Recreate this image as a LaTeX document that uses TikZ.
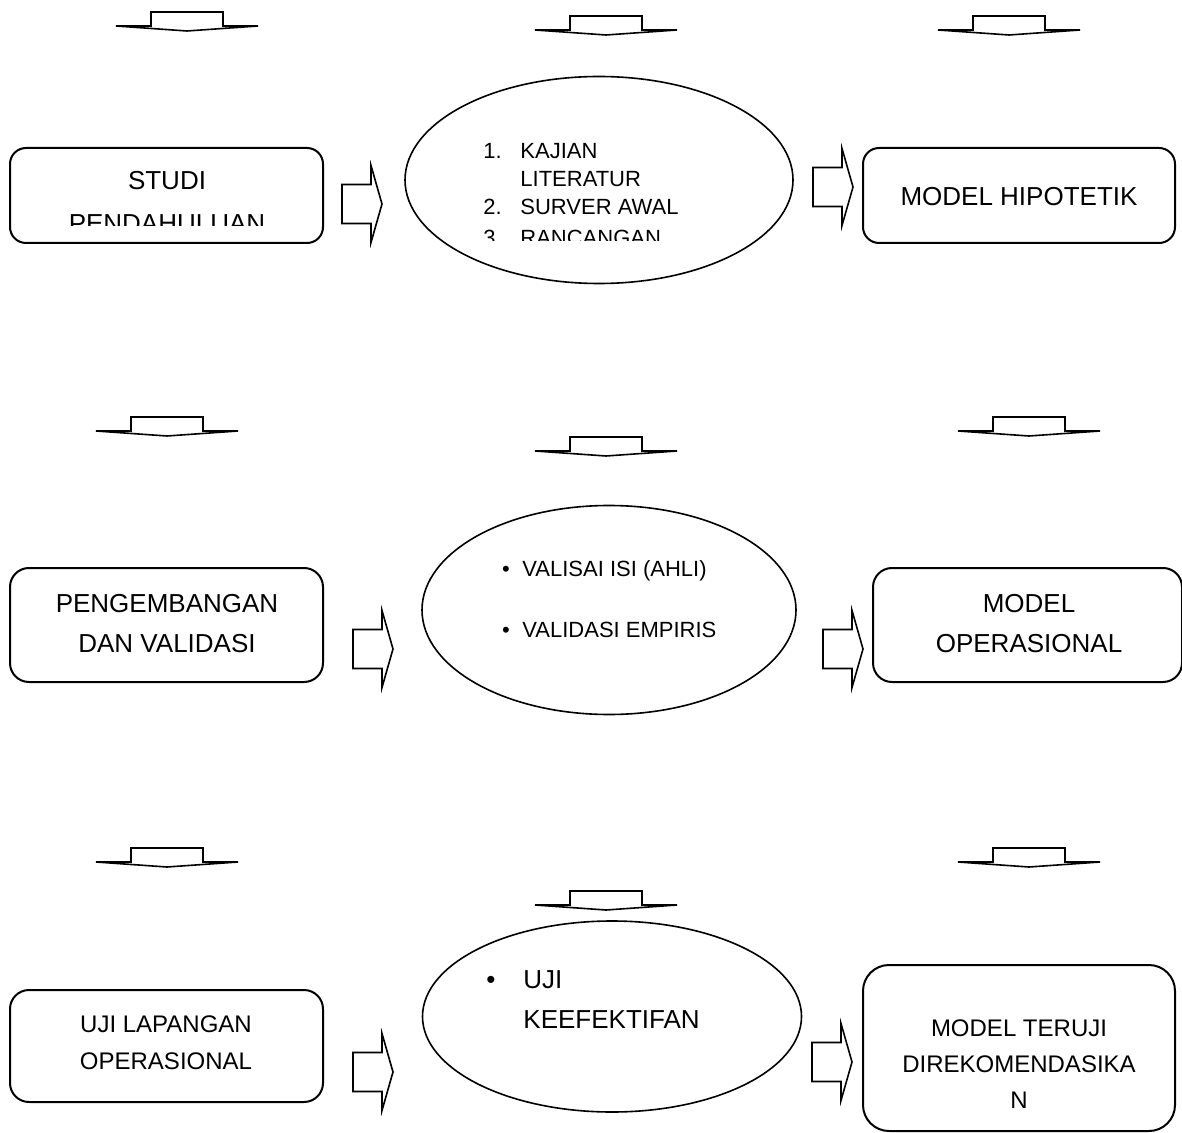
\documentclass[tikz,border=0pt]{standalone}
\usepackage{fontspec}
\setmainfont{Liberation Sans}
\usetikzlibrary{shapes.geometric,fit}

\begin{document}
\begin{tikzpicture}[x=0.5pt,y=-0.5pt,
  box/.style={draw=black, line width=1pt, inner sep=0pt, rectangle},
  oval/.style={draw=black, line width=0.8pt, ellipse, inner sep=0pt},
  shapeline/.style={draw=black, line width=0.8pt, fill=white, line join=miter},
  txt/.style={inner sep=0pt, anchor=base, font=\fontsize{13}{16}\selectfont},
  txtsm/.style={inner sep=0pt, anchor=base, font=\fontsize{12}{15}\selectfont},
  item/.style={inner sep=0pt, anchor=base west, font=\fontsize{11}{14}\selectfont},
  itembig/.style={inner sep=0pt, anchor=base west, font=\fontsize{13}{16}\selectfont},
  rarrow/.pic={\path[shapeline] (0,-19.5) -- (29,-19.5) -- (29,-38.5) -- (40,0)
      -- (29,38.5) -- (29,19.5) -- (0,19.5) -- cycle;},
  darrow/.pic={\path[shapeline] (-36,0) -- (36,0) -- (36,14) -- (71,14) -- (0,19)
      -- (-71,14) -- (-36,14) -- cycle;}
]
\fill[white] (0,0) rectangle (1182,1133);
\useasboundingbox (0,0) rectangle (1182,1133);

% ---- down arrows above each column ----
\pic (d11) at (187,12) {darrow};
\pic (d12) at (606,16) {darrow};
\pic (d13) at (1009,16) {darrow};
\pic (d21) at (167,417) {darrow};
\pic (d22) at (606,437) {darrow};
\pic (d23) at (1029,417) {darrow};
\pic (d31) at (167,848) {darrow};
\pic (d32) at (606,891) {darrow};
\pic (d33) at (1029,848) {darrow};

% ---- row 1 ----
\node[box, rounded corners=8pt, fit={(10,148) (323,243)}] (b1) {};
\node[box, rounded corners=8pt, fit={(863,148) (1175,243)}] (b2) {};
\node[oval, minimum width=194pt, minimum height=103.5pt] (e1) at (599,180) {};
\pic (r11) at (342,204) {rarrow};
\pic (r12) at (813,187) {rarrow};

\begin{scope}
  \clip (10,148) rectangle (323,226);
  \node[txt] (t1a) at (167,190) {STUDI};
  \node[txt] (t1b) at (167,233) {PENDAHULUAN};
\end{scope}
\node[txt] (t2) at (1019,206) {MODEL HIPOTETIK};

\begin{scope}
  \clip (405,76) rectangle (793,241);
  \node[item] (n1) at (483,159) {1.};
  \node[item] (i1a) at (520,159) {KAJIAN};
  \node[item] (i1b) at (520,187) {LITERATUR};
  \node[item] (n2) at (483,215) {2.};
  \node[item] (i2) at (520,215) {SURVER AWAL};
  \node[item] (n3) at (483,246) {3.};
  \node[item] (i3) at (520,246) {RANCANGAN};
\end{scope}

% ---- row 2 ----
\node[box, rounded corners=9.5pt, fit={(10,568) (323,682)}] (b3) {};
\node[box, rounded corners=9.5pt, fit={(873,568) (1182,682)}] (b4) {};
\node[oval, minimum width=187pt, minimum height=104.5pt] (e2) at (609,610) {};
\pic (r21) at (353,649) {rarrow};
\pic (r22) at (823,649) {rarrow};

\node[txt] (t3a) at (167,612) {PENGEMBANGAN};
\node[txt] (t3b) at (167,652) {DAN VALIDASI};
\node[txt] (t4a) at (1029,612) {MODEL};
\node[txt] (t4b) at (1029,652) {OPERASIONAL};

\node[item, anchor=base] (bl1) at (506,576) {•};
\node[item] (v1) at (522,576) {VALISAI ISI (AHLI)};
\node[item, anchor=base] (bl2) at (506,637) {•};
\node[item] (v2) at (522,637) {VALIDASI EMPIRIS};

% ---- row 3 ----
\node[box, rounded corners=9.5pt, fit={(10,990) (323,1102)}] (b5) {};
\node[box, rounded corners=13pt, fit={(863,965) (1175,1131)}] (b6) {};
\node[oval, minimum width=189.5pt, minimum height=95.5pt] (e3) at (612,1016.5) {};
\pic (r31) at (353,1072) {rarrow};
\pic (r32) at (812,1062) {rarrow};

\node[txtsm] (t5a) at (166,1032) {UJI LAPANGAN};
\node[txtsm] (t5b) at (166,1069) {OPERASIONAL};
\node[txtsm] (t6a) at (1019,1036) {MODEL TERUJI};
\node[txtsm] (t6b) at (1019,1072) {DIREKOMENDASIKA};
\node[txtsm] (t6c) at (1019,1108) {N};

\node[itembig, anchor=base] (bl3) at (491,988) {•};
\node[itembig] (u1) at (523,988) {UJI};
\node[itembig] (u2) at (523,1028) {KEEFEKTIFAN};
\end{tikzpicture}
\end{document}
